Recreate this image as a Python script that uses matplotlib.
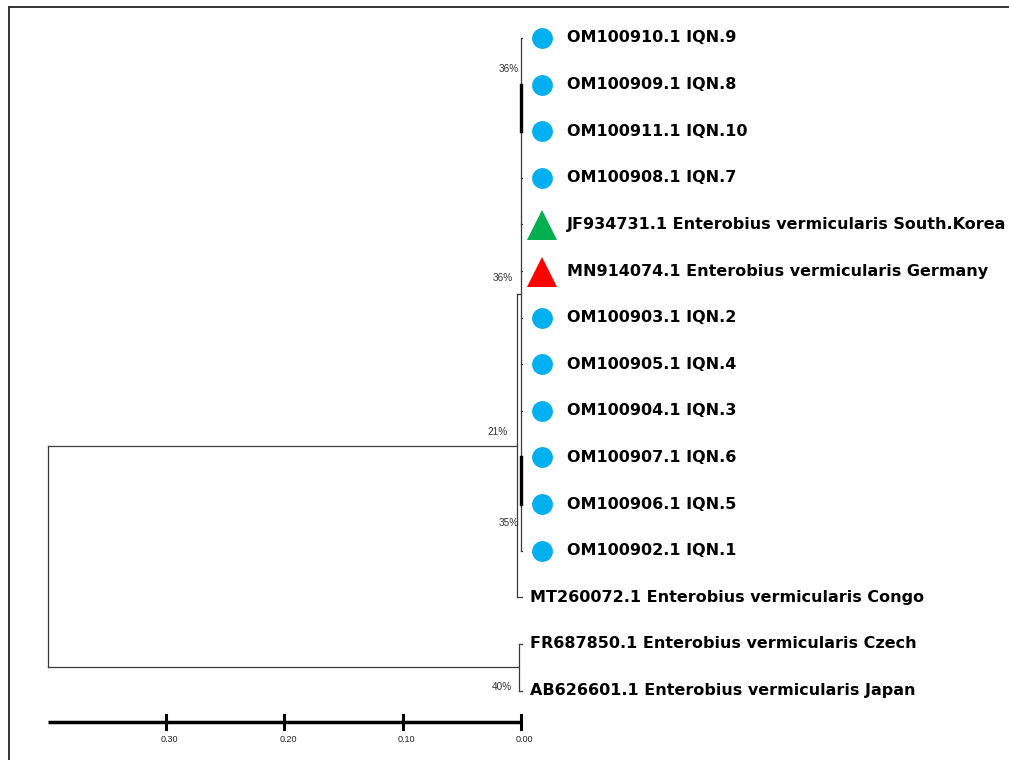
import matplotlib
matplotlib.use('Agg')
import matplotlib.pyplot as plt
from matplotlib.lines import Line2D

plt.rcParams['font.family'] = ['Liberation Sans', 'DejaVu Sans']

# leaves, top to bottom
leaves = ['OM100910.1 IQN.9', 'OM100909.1 IQN.8', 'OM100911.1 IQN.10',
          'OM100908.1 IQN.7', 'JF934731.1 Enterobius vermicularis South.Korea',
          'MN914074.1 Enterobius vermicularis Germany', 'OM100903.1 IQN.2',
          'OM100905.1 IQN.4', 'OM100904.1 IQN.3', 'OM100907.1 IQN.6',
          'OM100906.1 IQN.5', 'OM100902.1 IQN.1',
          'MT260072.1 Enterobius vermicularis Congo',
          'FR687850.1 Enterobius vermicularis Czech',
          'AB626601.1 Enterobius vermicularis Japan']
leaf_group = ['iq', 'iq', 'iq', 'iq', 'korea', 'germany', 'iq', 'iq', 'iq',
              'iq', 'iq', 'iq', None, None, None]

# node depths (distance from tips)
tip_depth = -0.0012
poly_depth = 0.0003     # big polytomy (leaves 0-11)
clade_a_depth = 0.0038  # polytomy + Congo
clade_b_depth = 0.0013  # Czech + Japan
root_depth = 0.40
subclades = [(1, 2), (9, 10)]  # zero-length subclades inside polytomy

# bootstrap labels: (text, depth of right edge, y)
support = [('36%', 0.0017, 0.67), ('36%', 0.0068, 5.15), ('21%', 0.011, 8.46),
           ('35%', 0.0017, 10.4), ('40%', 0.0076, 13.93)]

scale_ticks = [0.0, 0.1, 0.2, 0.3]
scale_len = 0.4

marker_style = {'iq': ('o', '#00B0F0', 15),
                'korea': ('^', '#00B050', 21),
                'germany': ('^', '#FF0000', 21)}

fig = plt.figure(figsize=(10.09, 7.6), dpi=100)
ax = fig.add_axes([0, 0, 1, 1])
ax.set_xlim(0.4404, -0.4125)
ax.set_ylim(15.49, -0.815)
ax.axis('off')

lc = '#3a3a3a'
lw = 0.9

# polytomy
poly_leaves = list(range(12))
ax.plot([poly_depth, poly_depth], [poly_leaves[0], poly_leaves[-1]], color=lc, lw=lw)
for i in poly_leaves:
    ax.plot([poly_depth, tip_depth], [i, i], color=lc, lw=lw)
for a, b in subclades:
    ax.plot([poly_depth, poly_depth], [a, b], color='black', lw=2.4)
poly_y = (poly_leaves[0] + poly_leaves[-1]) / 2

# clade A: polytomy + Congo
congo = 12
ax.plot([clade_a_depth, clade_a_depth], [poly_y, congo], color=lc, lw=lw)
ax.plot([clade_a_depth, poly_depth], [poly_y, poly_y], color=lc, lw=lw)
ax.plot([clade_a_depth, tip_depth], [congo, congo], color=lc, lw=lw)
a_y = (poly_y + congo) / 2

# clade B: Czech + Japan
ax.plot([clade_b_depth, clade_b_depth], [13, 14], color=lc, lw=lw)
for i in (13, 14):
    ax.plot([clade_b_depth, tip_depth], [i, i], color=lc, lw=lw)
b_y = 13.5

# root
ax.plot([root_depth, root_depth], [a_y, b_y], color=lc, lw=lw)
ax.plot([root_depth, clade_a_depth], [a_y, a_y], color=lc, lw=lw)
ax.plot([root_depth, clade_b_depth], [b_y, b_y], color=lc, lw=lw)

# leaf markers and names
for i, (name, grp) in enumerate(zip(leaves, leaf_group)):
    if grp is not None:
        m, c, s = marker_style[grp]
        ax.plot(-0.0178, i + (0.02 if m == '^' else 0), marker=m, color=c,
                markersize=s, markeredgewidth=0, linestyle='none')
        tx = -0.0385
    else:
        tx = -0.0076
    ax.text(tx, i, name, fontsize=11.5, fontweight='bold', ha='left',
            va='center', color='black', family='DejaVu Sans')

# support values
for txt, x, y in support:
    ax.text(x, y, txt, fontsize=7.2, ha='right', va='center', color='#333333')

# scale bar
bar_y = 14.68
ax.plot([scale_len, 0], [bar_y, bar_y], color='black', lw=2.5,
        solid_capstyle='butt')
for t in scale_ticks:
    ax.plot([t, t], [bar_y - 0.15, bar_y + 0.15], color='black', lw=2.2)
    ax.text(t - 0.003, bar_y + 0.36, '%.2f' % t, fontsize=6.5, ha='center',
            va='center', color='#222222')

# frame lines (top and left)
fig.add_artist(Line2D([9 / 1009, 1], [1 - 6.5 / 760, 1 - 6.5 / 760],
                      transform=fig.transFigure, color='#333333', lw=1.4))
fig.add_artist(Line2D([9 / 1009, 9 / 1009], [0, 1 - 6.5 / 760],
                      transform=fig.transFigure, color='#333333', lw=1.4))

fig.savefig('out.png', dpi=100)
